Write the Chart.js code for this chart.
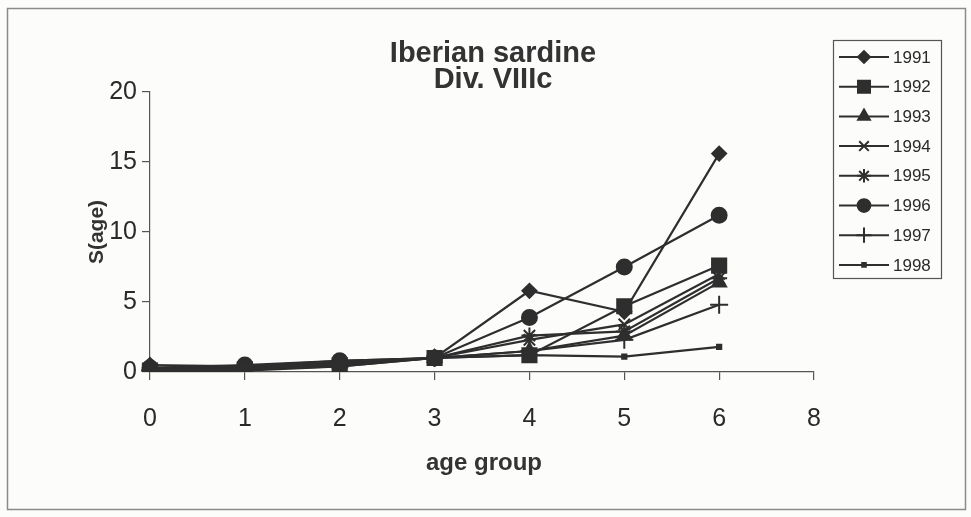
<!DOCTYPE html>
<html>
<head>
<meta charset="utf-8">
<title>Iberian sardine Div. VIIIc</title>
<script src="https://cdn.jsdelivr.net/npm/chart.js@4/dist/chart.umd.min.js"></script>
<style>
  html, body { margin: 0; padding: 0; background: #fcfcfb; }
  #wrap { position: relative; width: 971px; height: 517px; }
</style>
</head>
<body>
<div id="wrap"><canvas id="sel"></canvas></div>
<script>
/* Selectivity S(age) by age group, sardine Div. VIIIc, 1991-1998.
   Category axis: the last slot ("8") carries no values. */
const AGE_GROUPS = ['0', '1', '2', '3', '4', '5', '6', '8'];
const Y_TICKS = [0, 5, 10, 15, 20];

const S_1991 = [0.5, 0.4, 0.7, 1, 5.8, 4.3, 15.6, null];
const S_1992 = [0.1, 0.2, 0.5, 1, 1.2, 4.7, 7.6, null];
const S_1993 = [0.2, 0.3, 0.6, 1, 1.5, 2.6, 6.4, null];
const S_1994 = [0.3, 0.4, 0.8, 1, 2.3, 3.4, 7.0, null];
const S_1995 = [0.2, 0.3, 0.7, 1, 2.6, 2.9, 6.7, null];
const S_1996 = [0.3, 0.5, 0.8, 1, 3.9, 7.5, 11.2, null];
const S_1997 = [0.1, 0.2, 0.4, 1, 1.5, 2.3, 4.8, null];
const S_1998 = [0.0, 0.1, 0.4, 1, 1.2, 1.1, 1.8, null];

const YEARS = ['1991', '1992', '1993', '1994', '1995', '1996', '1997', '1998'];
const SERIES = [S_1991, S_1992, S_1993, S_1994, S_1995, S_1996, S_1997, S_1998];

(function () {
  'use strict';

  const INK = '#2e2e2e';
  const FONT = '"Liberation Sans", Arial, Helvetica, sans-serif';

  // marker per year, Excel-style
  const MARKERS = [
    { style: 'rectRot',  r: 7 },
    { style: 'rect',     r: 10 },
    { style: 'triangle', r: 8 },
    { style: 'crossRot', r: 8 },
    { style: 'star',     r: 8 },
    { style: 'circle',   r: 7.5 },
    { style: 'cross',    r: 9 },
    { style: 'rect',     r: 3 }
  ];

  const datasets = SERIES.map(function (data, i) {
    return {
      label: YEARS[i],
      data: data,
      borderColor: INK,
      backgroundColor: INK,
      borderWidth: 2.2,
      pointStyle: MARKERS[i].style,
      pointRadius: MARKERS[i].r,
      pointBorderWidth: 2,
      pointBorderColor: INK,
      pointBackgroundColor: INK,
      tension: 0,
      spanGaps: false
    };
  });

  // frame, title, axis titles and the boxed legend
  const decor = {
    id: 'decor',
    beforeDraw: function (chart) {
      const ctx = chart.ctx;
      ctx.save();
      ctx.fillStyle = '#fcfcfb';
      ctx.fillRect(0, 0, chart.width, chart.height);
      ctx.restore();
    },
    afterDraw: function (chart) {
      const ctx = chart.ctx;
      ctx.save();

      ctx.strokeStyle = '#8a8a8a';
      ctx.lineWidth = 1.5;
      ctx.strokeRect(7.5, 8.5, 958, 501);

      ctx.fillStyle = '#333';
      ctx.textAlign = 'center';
      ctx.textBaseline = 'middle';
      ctx.font = 'bold 29px ' + FONT;
      ctx.fillText('Iberian sardine', 493, 54);
      ctx.fillText('Div. VIIIc', 493, 80);

      ctx.font = 'bold 24px ' + FONT;
      ctx.fillText('age group', 484, 463);
      ctx.font = 'bold 21px ' + FONT;
      ctx.save();
      ctx.translate(97, 232);
      ctx.rotate(-Math.PI / 2);
      ctx.fillText('S(age)', 0, 0);
      ctx.restore();

      // legend
      ctx.strokeStyle = '#555';
      ctx.lineWidth = 1.2;
      ctx.strokeRect(833.5, 40.5, 108, 238);
      ctx.font = '17px ' + FONT;
      ctx.textAlign = 'left';
      YEARS.forEach(function (y, i) {
        const cy = 57 + i * 29.7;
        ctx.strokeStyle = INK;
        ctx.lineWidth = 2;
        ctx.beginPath();
        ctx.moveTo(839, cy);
        ctx.lineTo(889, cy);
        ctx.stroke();
        ctx.fillStyle = INK;
        Chart.helpers.drawPoint(ctx, {
          pointStyle: MARKERS[i].style,
          radius: MARKERS[i].r * 0.85,
          rotation: 0,
          borderWidth: 2
        }, 864, cy);
        ctx.fillStyle = '#2a2a2a';
        ctx.fillText(y, 893, cy + 1);
      });
      ctx.restore();
    }
  };

  new Chart(document.getElementById('sel'), {
    type: 'line',
    data: { labels: AGE_GROUPS, datasets: datasets },
    options: {
      responsive: true,
      maintainAspectRatio: false,
      animation: false,
      layout: { padding: { left: 0, top: 92, right: 157, bottom: 0 } },
      plugins: {
        legend: { display: false },
        tooltip: { enabled: false }
      },
      scales: {
        x: {
          type: 'category',
          offset: false,
          afterFit: function (s) { s.height = 145; },
          grid: {
            drawOnChartArea: false,
            drawTicks: true,
            tickLength: 8,
            tickColor: '#555',
            lineWidth: 1.2
          },
          border: { color: '#555', width: 1.2 },
          ticks: {
            color: '#2a2a2a',
            font: { family: FONT, size: 25 },
            padding: 24,
            maxRotation: 0,
            autoSkip: false
          }
        },
        y: {
          min: 0,
          max: 20,
          afterFit: function (s) { s.width = 150; },
          afterBuildTicks: function (s) {
            s.ticks = Y_TICKS.map(function (v) { return { value: v }; });
          },
          grid: {
            drawOnChartArea: false,
            drawTicks: true,
            tickLength: 8,
            tickColor: '#555',
            lineWidth: 1.2
          },
          border: { color: '#555', width: 1.2 },
          ticks: {
            color: '#2a2a2a',
            font: { family: FONT, size: 25 },
            padding: 5
          }
        }
      }
    },
    plugins: [decor]
  });
})();
</script>
</body>
</html>
